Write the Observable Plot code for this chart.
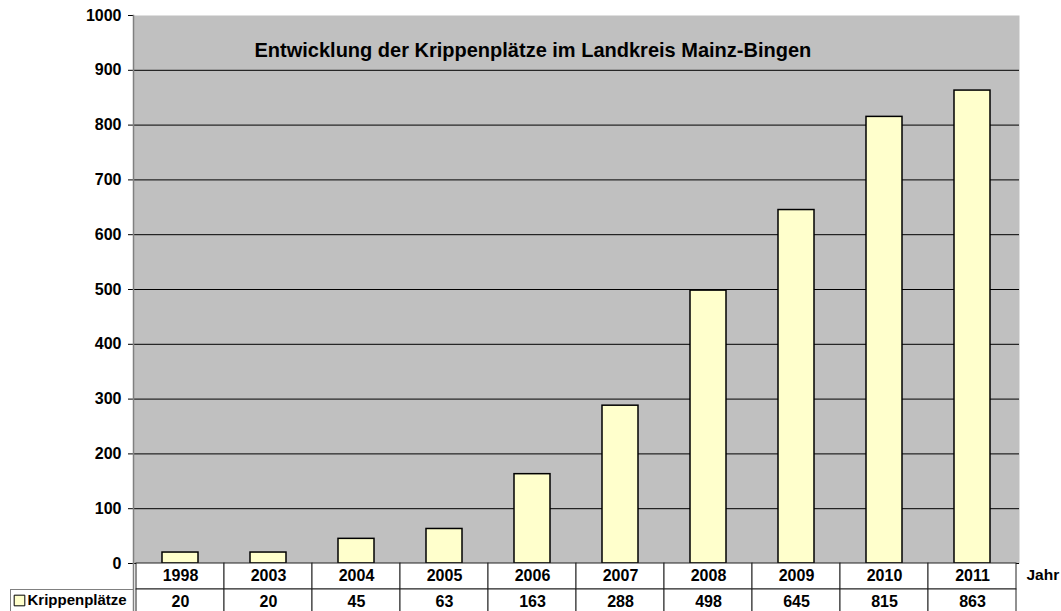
<!DOCTYPE html>
<html>
<head>
<meta charset="utf-8">
<script src="https://cdn.jsdelivr.net/npm/d3@7"></script>
<script src="https://cdn.jsdelivr.net/npm/@observablehq/plot@0.6"></script>
<style>
  html, body { margin: 0; padding: 0; background: #fff; overflow: hidden; }
  #wrap { position: relative; width: 1061px; height: 611px; font-family: "Liberation Sans", Arial, sans-serif; }
  #wrap svg { position: absolute; left: 0; overflow: visible; }
  #legend { position: absolute; left: 10px; top: 589px; width: 123px; height: 30px; border-top: 1px solid #808080; border-left: 1px solid #808080; box-sizing: border-box; }
</style>
</head>
<body>
<div id="wrap"></div>
<script>
const title = "Entwicklung der Krippenplätze im Landkreis Mainz-Bingen";
const years = ["1998", "2003", "2004", "2005", "2006", "2007", "2008", "2009", "2010", "2011"];
const values = [20, 20, 45, 63, 163, 288, 498, 645, 815, 863];
const seriesName = "Krippenplätze";
const xLabel = "Jahr";
const yTicks = [0, 100, 200, 300, 400, 500, 600, 700, 800, 900, 1000];
const gridTicks = [100, 200, 300, 400, 500, 600, 700, 800, 900];

const data = years.map((y, i) => ({year: y, value: values[i]}));
const font = "Liberation Sans, Arial, sans-serif";

const chart = Plot.plot({
  width: 1061,
  height: 564,
  marginTop: 15,
  marginBottom: 1,
  marginLeft: 133,
  marginRight: 42,
  style: {fontFamily: font, background: "transparent", overflow: "visible"},
  x: {domain: years, paddingInner: 0.59, paddingOuter: 0.295, axis: null},
  y: {domain: [0, 1000], axis: null},
  marks: [
    Plot.frame({fill: "#c0c0c0", stroke: null}),
    Plot.ruleY(gridTicks, {stroke: "black", strokeWidth: 1}),
    Plot.barY(data, {x: "year", y: "value", fill: "#ffffcc", stroke: "black", strokeWidth: 1.5}),
    Plot.ruleY([0], {stroke: "black", strokeWidth: 1, insetLeft: -5}),
    Plot.axisY({ticks: yTicks, tickFormat: d => String(d), tickSize: 5, tickPadding: 7, fontSize: 16, fontWeight: "bold", stroke: "black", fill: "black", label: null}),
    Plot.frame({anchor: "left", stroke: "#808080", strokeWidth: 1.5}),
    Plot.text([title], {frameAnchor: "top-left", dx: 121, dy: 27, textAnchor: "start", fontSize: 20, fontWeight: "bold", fill: "black"})
  ]
});
chart.style.top = "0px";

const rowKeys = ["year", "value"];
const cells = data.flatMap(d => [{year: d.year, row: "year", text: d.year}, {year: d.year, row: "value", text: String(d.value)}]);

const table = Plot.plot({
  width: 1061,
  height: 52,
  marginTop: 0,
  marginBottom: 0,
  marginLeft: 133,
  marginRight: 42,
  style: {fontFamily: font, background: "transparent", overflow: "visible"},
  x: {domain: years, padding: 0, axis: null},
  y: {domain: rowKeys, padding: 0, axis: null},
  marks: [
    Plot.cell(cells, {x: "year", y: "row", fill: "white", stroke: "#222", strokeWidth: 1}),
    Plot.text(cells, {x: "year", y: "row", text: "text", fontSize: 16, fontWeight: "bold", fill: "black", dy: -1}),
    Plot.text([xLabel], {y: () => "year", frameAnchor: "right", dx: 7, dy: -1, textAnchor: "start", fontSize: 15.5, fontWeight: "bold", fill: "black"}),
    Plot.text([seriesName], {y: () => "value", frameAnchor: "left", dx: -106, dy: -2, textAnchor: "start", fontSize: 15, fontWeight: "bold", fill: "black"}),
    Plot.dot([seriesName], {y: () => "value", frameAnchor: "left", dx: -114, dy: -2, symbol: "square", r: 6, fill: "#ffffcc", stroke: "black", strokeWidth: 1}),
    Plot.frame({anchor: "left", stroke: "#808080", strokeWidth: 1.5})
  ]
});
table.style.top = "563px";

const wrap = document.getElementById("wrap");
wrap.appendChild(chart);
wrap.appendChild(table);
const leg = document.createElement("div");
leg.id = "legend";
wrap.appendChild(leg);
</script>
</body>
</html>
